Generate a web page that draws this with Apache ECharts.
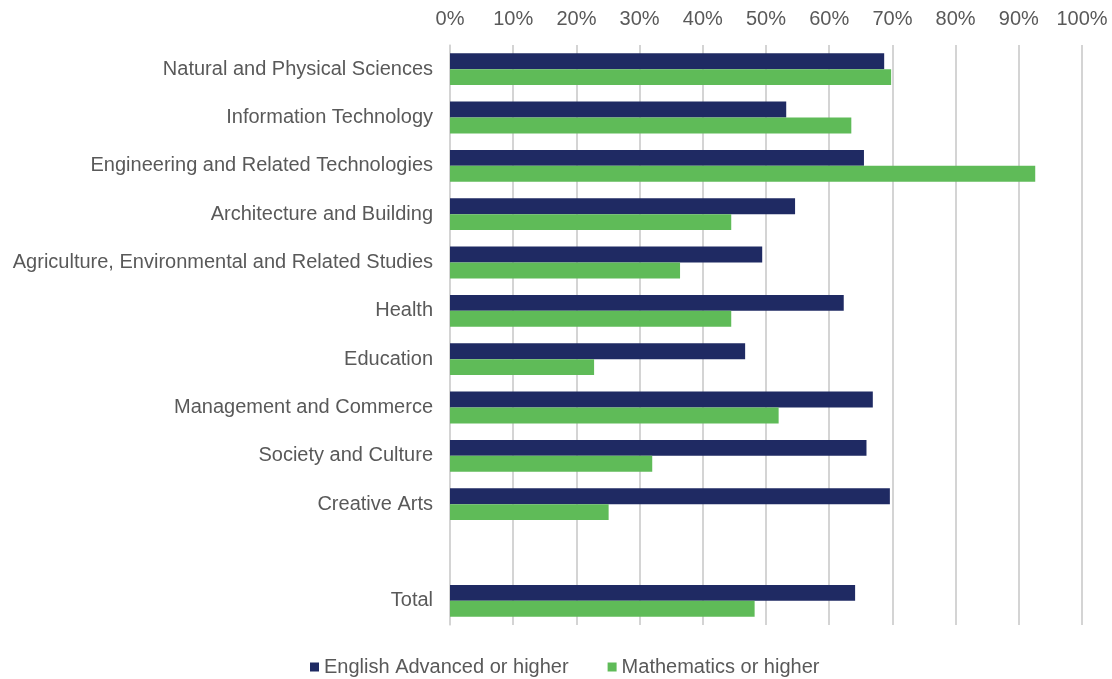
<!DOCTYPE html>
<html>
<head>
<meta charset="utf-8">
<script src="https://cdn.jsdelivr.net/npm/echarts@6/dist/echarts.min.js"></script>
<style>
  html, body { margin: 0; padding: 0; background: #fff; }
  #chart { width: 1112px; height: 679px; }
</style>
</head>
<body>
<div id="chart"></div>
<script>
// categories top to bottom, the empty one is the gap before Total
var categories = [
  'Natural and Physical Sciences',
  'Information Technology',
  'Engineering and Related Technologies',
  'Architecture and Building',
  'Agriculture, Environmental and Related Studies',
  'Health',
  'Education',
  'Management and Commerce',
  'Society and Culture',
  'Creative Arts',
  '',
  'Total'
];
var englishValues = [68.7, 53.2, 65.5, 54.6, 49.4, 62.3, 46.7, 66.9, 65.9, 69.6, null, 64.1];
var mathsValues = [69.8, 63.5, 92.6, 44.5, 36.4, 44.5, 22.8, 52.0, 32.0, 25.1, null, 48.2];
var xTicks = [0, 10, 20, 30, 40, 50, 60, 70, 80, 90, 100];

var chart = echarts.init(document.getElementById('chart'));
var font = 'Liberation Sans, Arial, sans-serif';

var option = {
  backgroundColor: '#ffffff',
  textStyle: { fontFamily: font },
  grid: { left: 450, right: 30, top: 45, bottom: 54, containLabel: false },
  legend: {
    top: 652,
    left: 305,
    itemWidth: 9,
    itemHeight: 9,
    itemGap: 39,
    icon: 'rect',
    textStyle: { fontFamily: font, fontSize: 20, color: '#595959' },
    data: ['English Advanced or higher', 'Mathematics or higher']
  },
  xAxis: {
    type: 'value',
    position: 'top',
    min: xTicks[0],
    max: xTicks[xTicks.length - 1],
    interval: 10,
    axisLine: { show: false },
    axisTick: { show: false },
    axisLabel: {
      formatter: '{value}%',
      fontFamily: font,
      fontSize: 20,
      color: '#595959',
      margin: 16
    },
    splitLine: { lineStyle: { color: '#d4d4d4', width: 2 } }
  },
  yAxis: {
    type: 'category',
    inverse: true,
    data: categories,
    axisLine: { show: true, lineStyle: { color: '#d4d4d4', width: 1.5 } },
    axisTick: { show: false },
    axisLabel: {
      fontFamily: font,
      fontSize: 20,
      color: '#595959',
      margin: 17
    }
  },
  series: [
    {
      name: 'English Advanced or higher',
      type: 'bar',
      data: englishValues,
      barGap: '0%',
      barCategoryGap: '34%',
      itemStyle: { color: '#1f2a63' }
    },
    {
      name: 'Mathematics or higher',
      type: 'bar',
      data: mathsValues,
      barGap: '0%',
      barCategoryGap: '34%',
      itemStyle: { color: '#5fbb58' }
    }
  ]
};

chart.setOption(option);
</script>
</body>
</html>
